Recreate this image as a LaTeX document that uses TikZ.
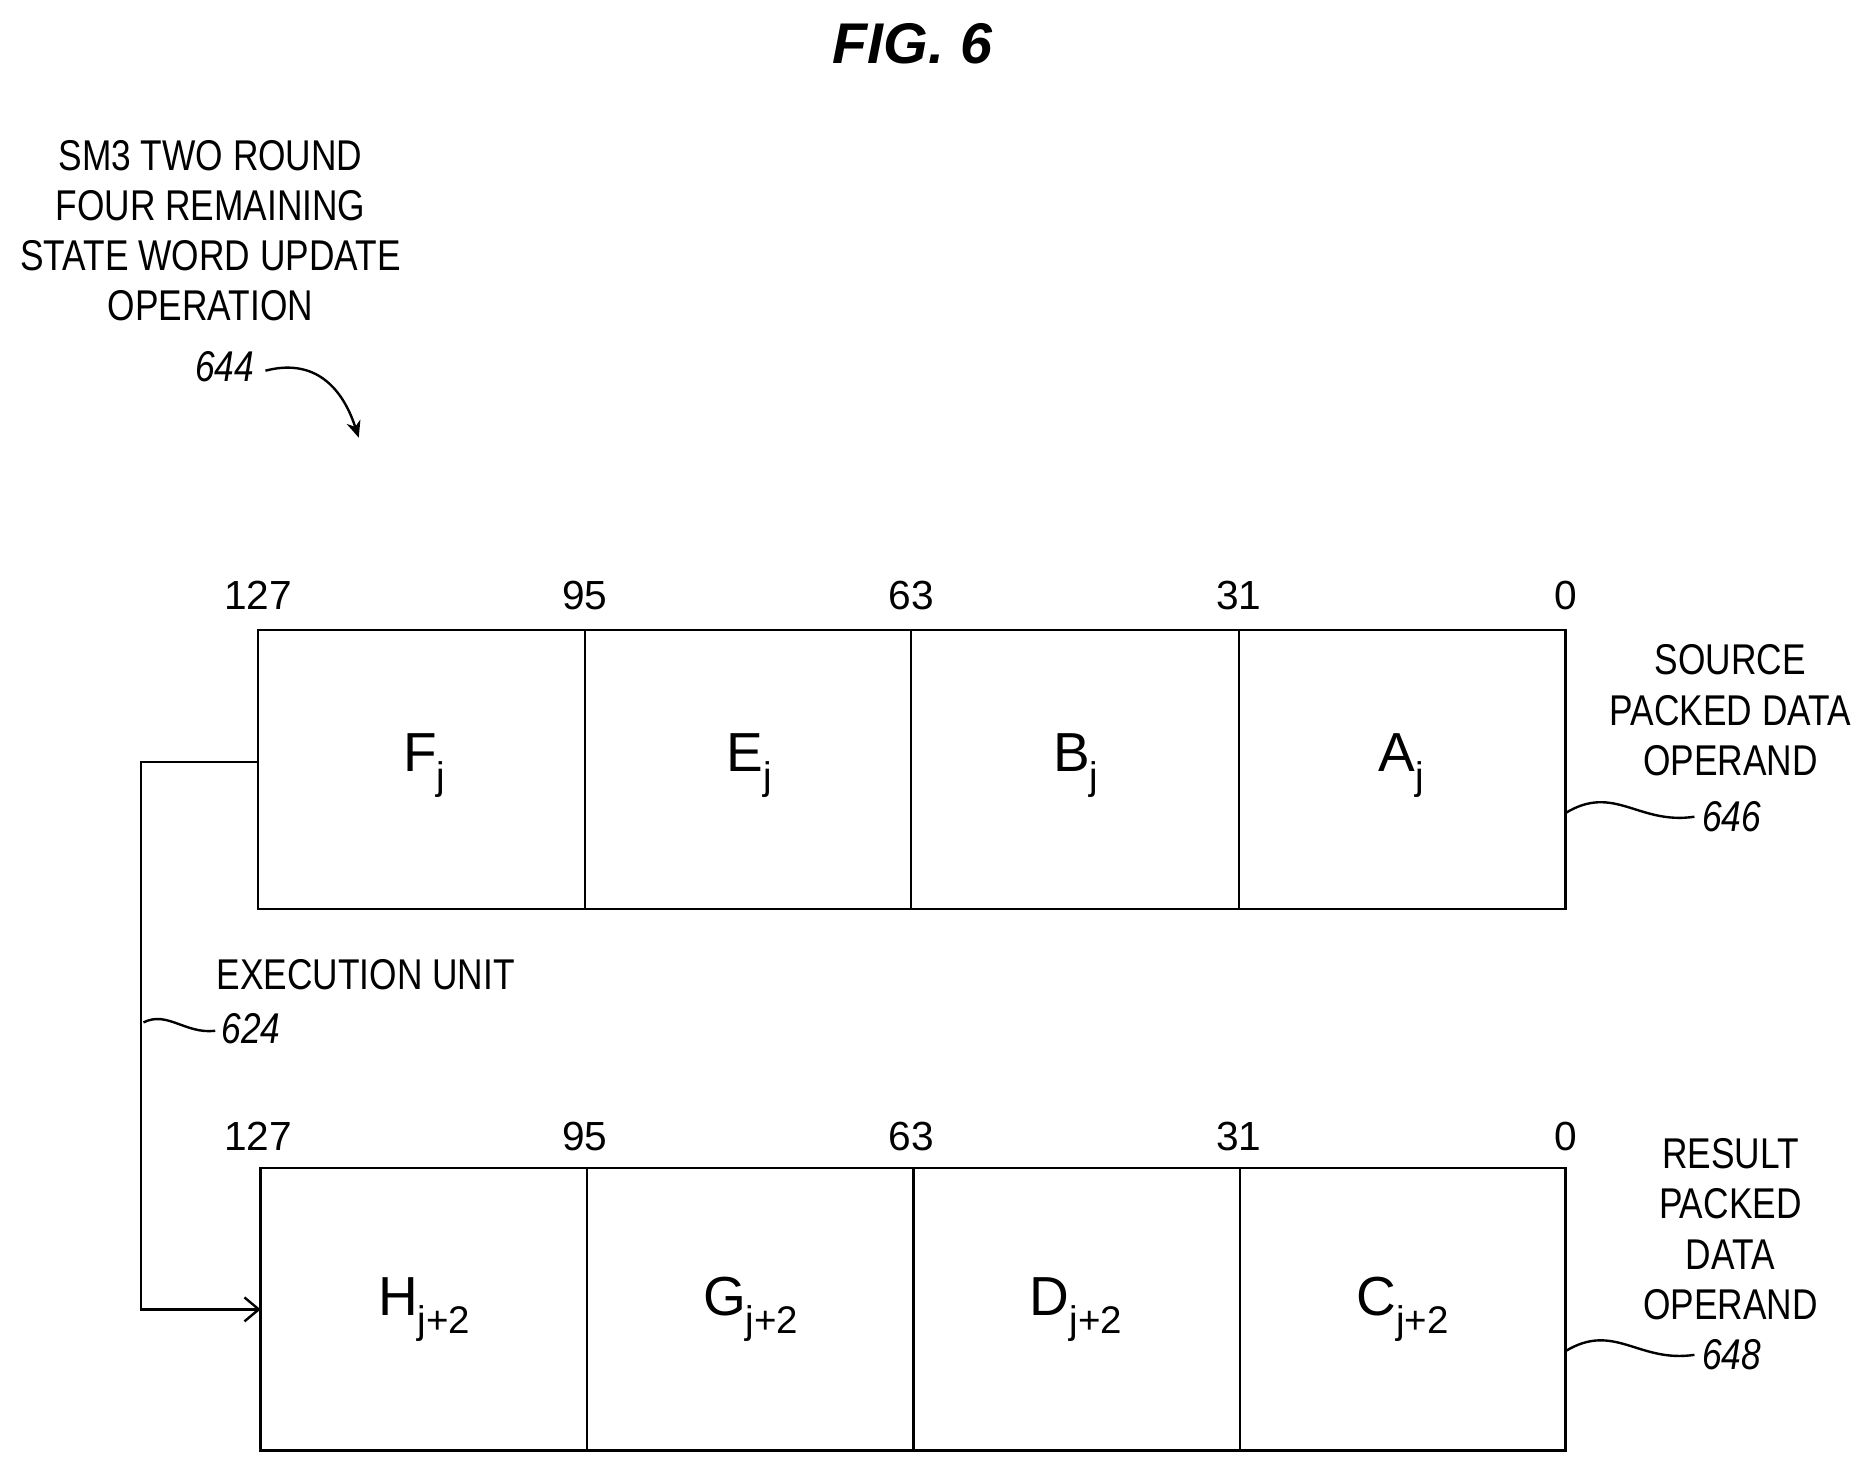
\documentclass[tikz,border=0pt]{standalone}
\usepackage{fontspec}
\setmainfont{Liberation Sans}
\newfontfamily\narrow[FakeStretch=0.82]{Liberation Sans}
\usetikzlibrary{arrows.meta}
\begin{document}
\begin{tikzpicture}[x=1pt,y=-1pt,
 lab/.style={font=\narrow\fontsize{36}{42}\selectfont,align=center,inner sep=0},
 num/.style={font=\narrow\itshape\fontsize{36}{42}\selectfont,inner sep=0},
 bit/.style={font=\fontsize{34}{40}\selectfont,inner sep=0},
 fld/.style={font=\fontsize{46}{50}\selectfont,inner sep=0},
 ln/.style={line width=2pt}]
\useasboundingbox (0,0) rectangle (1568,1230);
\node[font=\bfseries\itshape\fontsize{48}{54}\selectfont] (t) at (763,37) {FIG. 6};
\node[lab] (op) at (176,193) {SM3 TWO ROUND\\FOUR REMAINING\\STATE WORD UPDATE\\OPERATION};
\node[num] (n644) at (188,307) {644};
\coordinate (a1) at (222,310);
\coordinate (a2) at (300,366);
\draw[ln,-{Stealth[length=14pt,width=12pt]}] (a1) .. controls (260,300) and (285,320) .. (a2);
% top box
\draw[ln] (216,527) rectangle (1309,760);
\foreach \x in {489,762,1036} \draw[ln] (\x,527) -- (\x,760);
\draw[ln] (218,977) rectangle (1309,1213);
\foreach \x in {491,764,1037} \draw[ln] (\x,977) -- (\x,1213);
\foreach \x/\t/\n in {216/127/a,489/95/b,762/63/c,1036/31/d,1309/0/e}{
 \node[bit] (tb\n) at (\x,498) {\t};
 \node[bit] (bb\n) at (\x,950) {\t};}
\node[fld] (F) at (355,640) {F\textsubscript{j}};
\node[fld] (E) at (627,640) {E\textsubscript{j}};
\node[fld] (B) at (900,640) {B\textsubscript{j}};
\node[fld] (A) at (1172,640) {A\textsubscript{j}};
\node[fld] (H) at (355,1095) {H\textsubscript{j+2}};
\node[fld] (G) at (628,1095) {G\textsubscript{j+2}};
\node[fld] (D) at (900,1095) {D\textsubscript{j+2}};
\node[fld] (C) at (1173,1095) {C\textsubscript{j+2}};
\coordinate (s) at (216,637);
\coordinate (d) at (218,1095);
\draw[ln,-{Straight Barb[length=12pt,width=20pt]}] (s) -- (118,637) -- (118,1095) -- (d);
\node[lab,anchor=west] (eu) at (181,815) {EXECUTION UNIT};
\node[num] (n624) at (210,860) {624};
\draw[ln] (120,855) .. controls (140,845) and (155,865) .. (180,862);
\node[lab] (src) at (1447,594) {SOURCE\\PACKED DATA\\OPERAND};
\node[num] (n646) at (1448,683) {646};
\draw[ln] (1309,680) .. controls (1350,655) and (1370,690) .. (1417,683);
\node[lab] (res) at (1447,1028) {RESULT\\PACKED\\DATA\\OPERAND};
\node[num] (n648) at (1448,1133) {648};
\draw[ln] (1309,1130) .. controls (1350,1105) and (1370,1140) .. (1417,1133);
\end{tikzpicture}
\end{document}
